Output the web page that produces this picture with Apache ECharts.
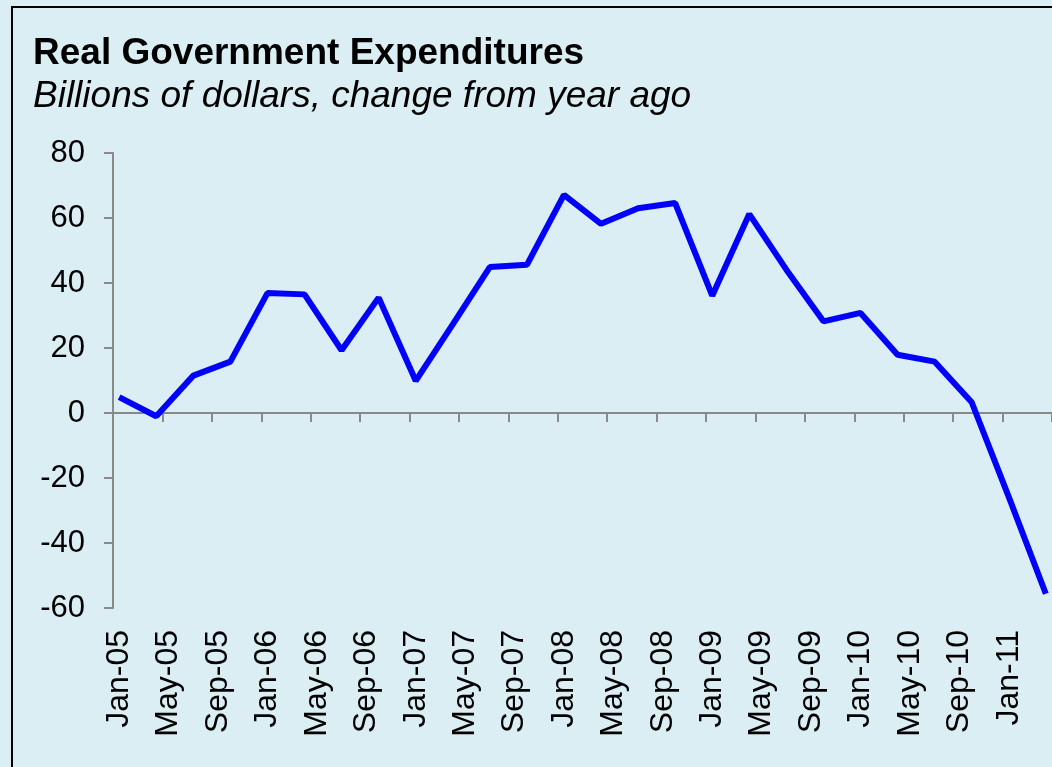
<!DOCTYPE html>
<html>
<head>
    <meta charset="UTF-8">
    <title>Real Government Expenditures</title>
    <script type="text/javascript" src="https://cdn.jsdelivr.net/npm/echarts@6/dist/echarts.min.js"></script>
    <style>
        body,html{
            margin: 0;
            padding: 0;
            width: 100%;
            height: 100%;
            overflow: hidden;
            background: #DAEEF3;
        }
        #chart{
            width: 1052px;
            height: 767px;
        }
    </style>
</head>
<body>
<div id="chart"></div>
<script>
    // months on the axis, Jan-05 .. Apr-11
    var monthNames = ['Jan','Feb','Mar','Apr','May','Jun','Jul','Aug','Sep','Oct','Nov','Dec'];
    var years = ['05','06','07','08','09','10','11'];
    var lastMonthIndex = 3; // Apr-11

    // quarterly change from year ago (Jan, Apr, Jul, Oct of each year)
    var quarterValues = [
        4.9, -1.0, 11.5, 15.8,
        36.9, 36.5, 19.3, 35.5,
        9.9, 27.3, 44.9, 45.6,
        67.1, 58.2, 63.0, 64.6,
        36.1, 61.2, 44.1, 28.2,
        30.8, 17.9, 15.8, 3.3,
        -25.8, -55.6
    ];

    var yTicks = { min: -60, max: 80, step: 20 };

    var categories = [];
    for (var y = 0; y < years.length; y++) {
        for (var m = 0; m < 12; m++) {
            if (y == years.length - 1 && m > lastMonthIndex) break;
            categories.push(monthNames[m] + '-' + years[y]);
        }
    }

    // place each quarter on its month, other months stay empty
    var seriesData = [];
    for (var i = 0; i < categories.length; i++) seriesData.push(null);
    for (var q = 0; q < quarterValues.length; q++) seriesData[q * 3] = quarterValues[q];

    var font = 'Liberation Sans, Arial, sans-serif';
    var axisGray = '#898989';

    var chart = echarts.init(document.getElementById('chart'));
    var option = {
        animation: false,
        backgroundColor: '#DAEEF3',
        title: [
            {
                text: 'Real Government Expenditures',
                left: 33,
                top: 35,
                padding: 0,
                textStyle: { fontFamily: font, fontSize: 37, fontWeight: 'bold', color: '#000' }
            },
            {
                text: 'Billions of dollars, change from year ago',
                left: 33,
                top: 78,
                padding: 0,
                textStyle: { fontFamily: font, fontSize: 37, fontStyle: 'italic', fontWeight: 'normal', color: '#000' }
            }
        ],
        graphic: [
            {
                type: 'rect',
                shape: { x: 12, y: 7, width: 2000, height: 2000 },
                style: { fill: 'none', stroke: '#000', lineWidth: 2 },
                silent: true
            }
        ],
        grid: {
            left: 113,
            right: 0,
            top: 153,
            bottom: 159,
            outerBoundsMode: 'none'
        },
        xAxis: [
            {
                type: 'category',
                data: categories,
                boundaryGap: true,
                position: 'bottom',
                axisLine: { show: false, onZero: false },
                axisTick: { show: false },
                axisLabel: {
                    interval: 3,
                    rotate: 90,
                    margin: 22,
                    fontFamily: font,
                    fontSize: 32,
                    color: '#000'
                },
                splitLine: { show: false }
            },
            {
                type: 'category',
                data: categories,
                boundaryGap: true,
                position: 'bottom',
                axisLine: { show: true, onZero: true, lineStyle: { color: axisGray, width: 2 } },
                axisTick: { show: true, interval: 3, length: 9, lineStyle: { color: axisGray, width: 2 } },
                axisLabel: { show: false },
                splitLine: { show: false }
            }
        ],
        yAxis: {
            type: 'value',
            min: yTicks.min,
            max: yTicks.max,
            interval: yTicks.step,
            axisLine: { show: true, lineStyle: { color: axisGray, width: 2 } },
            axisTick: { show: true, length: 9, lineStyle: { color: axisGray, width: 2 } },
            axisLabel: { margin: 28, fontFamily: font, fontSize: 31, color: '#000' },
            splitLine: { show: false }
        },
        series: [
            {
                type: 'line',
                xAxisIndex: 0,
                data: seriesData,
                connectNulls: true,
                showSymbol: false,
                symbol: 'none',
                lineStyle: { color: '#0000FF', width: 6 },
                itemStyle: { color: '#0000FF' }
            }
        ]
    };
    chart.setOption(option);
</script>
</body>
</html>
